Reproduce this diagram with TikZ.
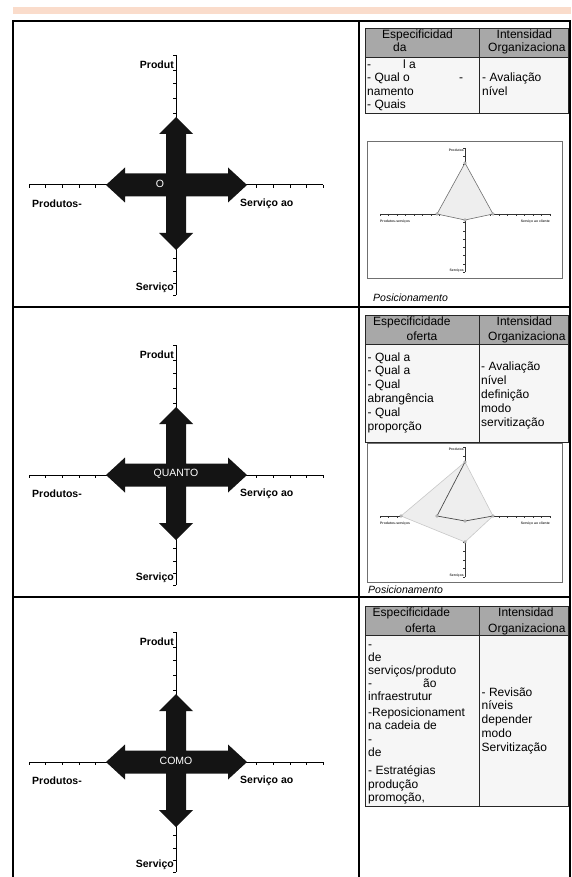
\documentclass[tikz,border=0pt]{standalone}
\usepackage{fontspec}
\setmainfont{Liberation Sans}
\definecolor{hdrgray}{HTML}{A8A8A8}
\definecolor{bodygray}{HTML}{F6F6F6}
\definecolor{barorange}{HTML}{FADCCB}
\definecolor{chartline}{HTML}{707070}
\definecolor{lightpoly}{HTML}{C8C8C8}
\definecolor{polyfill}{HTML}{EEEEEE}
\tikzset{
  frameline/.style={line width=2pt,black},
  axisline/.style={line width=1pt,black},
  tickline/.style={line width=0.8pt,black},
  crossfill/.style={fill=black!92},
  crosslbl/.style={text=white,font=\fontsize{10.5}{12}\selectfont,inner sep=0pt},
  axlbl/.style={font=\bfseries\fontsize{10.5}{12}\selectfont,inner sep=0pt},
  tblborder/.style={draw=black!85,line width=0.8pt},
  tbltext/.style={font=\fontsize{12}{13.5}\selectfont,inner sep=0pt,anchor=west,text height=8.6pt,text depth=2.4pt},
  tinylbl/.style={font=\bfseries\fontsize{3.4}{4}\selectfont,inner sep=0pt,text=black!80},
  postext/.style={font=\itshape\fontsize{10.5}{12}\selectfont,inner sep=0pt,anchor=west},
  vdot/.style={draw=chartline,fill=white,line width=0.4pt}
}
\newcommand{\crosspanel}[4]{%
  \begin{scope}[shift={(176,#1)}]
    \draw[axisline] (-147,0) -- (147,0);
    \foreach \xx in {-147,-130.3,-113.7,-97,-80.3,80.7,97.3,114,130.7,147}
      \draw[tickline] (\xx,0) -- (\xx,3);
    \draw[axisline] (0,-130) -- (0,110);
    \foreach \yy in {-130,-115,-101.7,-86.7,-71.7,73,86,98,110}
      \draw[tickline] (0,\yy) -- (-3,\yy);
    \fill[crossfill] (0,-68) -- (17,-51) -- (10,-51) -- (10,-11.5) -- (52,-11.5) -- (52,-17.5) -- (71,0) -- (52,17.5) -- (52,11.5) -- (10,11.5) -- (10,48) -- (17,48) -- (0,65) -- (-17,48) -- (-10,48) -- (-10,11.5) -- (-51,11.5) -- (-51,17.5) -- (-70,0) -- (-51,-17.5) -- (-51,-11.5) -- (-10,-11.5) -- (-10,-51) -- (-17,-51) -- cycle;
    \node[crosslbl] (lbl#2) at (#3,-1.5) {#4};
    \node[axlbl,anchor=east] (prod#2) at (-2,-120) {Produt};
    \node[axlbl,anchor=east] (serv#2) at (-2,103) {Serviço};
    \node[axlbl,anchor=west] (ps#2) at (-144,19) {Produtos-};
    \node[axlbl,anchor=west] (sc#2) at (64,19) {Serviço ao};
  \end{scope}}
\newcommand{\chartpanel}[6]{%
  \draw[draw=chartline,fill=white,line width=0.7pt] (367,#1) rectangle (562.5,#2);
  \draw[line width=0.5pt,black!80] (380,#3) -- (550,#3);
  \foreach \i in {0,...,20} \draw[line width=0.3pt,black!80] (380+\i*8.5,#3) -- ++(0,1.6);
  \draw[line width=0.5pt,black!80] (465,#4) -- (465,#5);
  \foreach \i in {0,...,15} \draw[line width=0.3pt,black!80] (465,{#4+\i*(#5-#4)/15}) -- ++(-1.6,0);
  \node[tinylbl,anchor=east] (cp#6) at (464,#4+2) {Produtos};
  \node[tinylbl,anchor=east] (cs#6) at (464,#5-1.5) {Serviços};
  \node[tinylbl,anchor=west] (cps#6) at (380,#3+8) {Produtos-serviços};
  \node[tinylbl,anchor=east] (csc#6) at (550,#3+8) {Serviço ao cliente};}
\begin{document}
\begin{tikzpicture}[x=1pt,y=-1pt]
\useasboundingbox (0,0) rectangle (571,877);
\fill[white] (0,0) rectangle (571,877);
% top bar
\fill[barorange] (13,7) rectangle (571,14);

% ---------- left panels ----------
\crosspanel{185}{1}{-16}{O}
\crosspanel{475}{2}{0}{QUANTO}
\crosspanel{762}{3}{0}{COMO}

% ---------- table 1 ----------
\draw[tblborder,fill=hdrgray] (365,28) rectangle (568,57);
\draw[tblborder,fill=bodygray] (365,57) rectangle (568,113);
\draw[tblborder] (479,28) -- (479,113);
\node[tbltext] (h1a) at (382,35) {Especificidad};
\node[tbltext] (h1b) at (393,48) {da};
\node[tbltext] (h1c) at (496.5,35) {Intensidad};
\node[tbltext] (h1d) at (488,48) {Organizaciona};
\node[tbltext] (b1a) at (367,65) {-};
\node[tbltext] (b1b) at (403,65) {l a};
\node[tbltext] (b1c) at (367,78) {- Qual o};
\node[tbltext] (b1d) at (459,78) {-};
\node[tbltext] (b1e) at (367,92) {namento};
\node[tbltext] (b1f) at (367,105) {- Quais};
\node[tbltext] (r1a) at (482,78) {- Avaliação};
\node[tbltext] (r1b) at (482,92) {nível};
% chart 1
\chartpanel{141}{278}{214}{148}{272}{1}
\draw[draw=chartline,fill=polyfill,line width=0.6pt] (465,163) -- (493,214) -- (465,220) -- (437,214) -- cycle;
\foreach \p in {(465,163),(493,214),(465,220),(437,214)} \draw[vdot] \p circle (1.3pt);
\node[postext] (pos1) at (373,298) {Posicionamento};

% ---------- table 2 ----------
\draw[tblborder,fill=hdrgray] (365,315) rectangle (568,344);
\draw[tblborder,fill=bodygray] (365,344) rectangle (568,442);
\draw[tblborder] (479,315) -- (479,442);
\node[tbltext] (h2a) at (373,322) {Especificidade};
\node[tbltext] (h2b) at (406.5,337) {oferta};
\node[tbltext] (h2c) at (496.5,322) {Intensidad};
\node[tbltext] (h2d) at (488,337) {Organizaciona};
\node[tbltext] (b2a) at (367.5,358) {- Qual a};
\node[tbltext] (b2b) at (367.5,371) {- Qual a};
\node[tbltext] (b2c) at (367.5,385) {- Qual};
\node[tbltext] (b2d) at (367.5,399.5) {abrangência};
\node[tbltext] (b2e) at (367.5,413) {- Qual};
\node[tbltext] (b2f) at (367.5,427) {proporção};
\node[tbltext] (r2a) at (481,367) {- Avaliação};
\node[tbltext] (r2b) at (481,381) {nível};
\node[tbltext] (r2c) at (481,395) {definição};
\node[tbltext] (r2d) at (481,409) {modo};
\node[tbltext] (r2e) at (481,423) {servitização};
% chart 2
\chartpanel{443}{582}{516}{447}{577}{2}
\draw[draw=lightpoly,fill=polyfill,line width=0.6pt] (465,462) -- (493,516) -- (465,542) -- (401,516) -- cycle;
\draw[draw=black!70,line width=0.7pt] (465,462) -- (437,516) -- (465,521) -- (493,516);
\foreach \p in {(465,462),(493,516),(465,542),(401,516),(437,516),(465,521)} \draw[vdot] \p circle (1.3pt);
\node[postext] (pos2) at (368,590) {Posicionamento};

% ---------- table 3 ----------
\draw[tblborder,fill=hdrgray] (365,606) rectangle (568,635);
\draw[tblborder,fill=bodygray] (365,635) rectangle (568,806);
\draw[tblborder] (479,606) -- (479,806);
\node[tbltext] (h3a) at (372.5,613) {Especificidade};
\node[tbltext] (h3b) at (405,629) {oferta};
\node[tbltext] (h3c) at (498,613) {Intensidad};
\node[tbltext] (h3d) at (488,629) {Organizaciona};
\node[tbltext] (b3a) at (368,645) {-};
\node[tbltext] (b3b) at (368,658) {de};
\node[tbltext] (b3c) at (368,671) {serviços/produto};
\node[tbltext] (b3d) at (368,684) {-};
\node[tbltext] (b3e) at (423,684) {ão};
\node[tbltext] (b3f) at (368,697) {infraestrutur};
\node[tbltext] (b3g) at (368,713) {-Reposicionament};
\node[tbltext] (b3h) at (368,726) {na cadeia de};
\node[tbltext] (b3i) at (368,740) {-};
\node[tbltext] (b3j) at (368,753) {de};
\node[tbltext] (b3k) at (368,771) {- Estratégias};
\node[tbltext] (b3l) at (368,785) {produção};
\node[tbltext] (b3m) at (368,798) {promoção,};
\node[tbltext] (r3a) at (481.5,693) {- Revisão};
\node[tbltext] (r3b) at (481.5,706) {níveis};
\node[tbltext] (r3c) at (481.5,720) {depender};
\node[tbltext] (r3d) at (481.5,734) {modo};
\node[tbltext] (r3e) at (481.5,748) {Servitização};

% ---------- frame ----------
\draw[frameline] (13,877) -- (13,21) -- (569.5,21) -- (569.5,877);
\draw[frameline] (359,21) -- (359,877);
\draw[frameline] (13,307) -- (569.5,307);
\draw[frameline] (13,597) -- (569.5,597);
\end{tikzpicture}
\end{document}
